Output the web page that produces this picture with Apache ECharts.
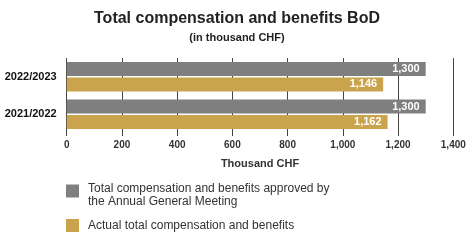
<!DOCTYPE html>
<html><head><meta charset="utf-8">
<script src="https://cdn.jsdelivr.net/npm/echarts@6/dist/echarts.min.js"></script>
<style>html,body{margin:0;padding:0;background:#fff}#c{width:474px;height:240px}</style>
</head><body><div id="c"></div>
<script>
const categories = ['2022/2023', '2021/2022'];
const approved = [1300, 1300];
const actual = [1146, 1162];
const xTicks = [0, 200, 400, 600, 800, 1000, 1200, 1400];
const seriesNames = ['Total compensation and benefits approved by\nthe Annual General Meeting', 'Actual total compensation and benefits'];
const FONT = 'Liberation Sans';
const chart = echarts.init(document.getElementById('c'), null, {renderer: 'canvas'});
const lbl = {show: true, position: 'insideRight', color: '#fff', fontWeight: 'bold', fontSize: 11, fontFamily: FONT, distance: 6,
  formatter: p => p.value.toLocaleString('en-US')};
const legendText = {fontFamily: FONT, fontSize: 12, color: '#333', lineHeight: 13};
chart.setOption({
  animation: false,
  title: {text: 'Total compensation and benefits BoD', subtext: '(in thousand CHF)', left: 'center', top: 6, itemGap: 5,
    textStyle: {fontFamily: FONT, fontSize: 16, fontWeight: 'bold', color: '#222'},
    subtextStyle: {fontFamily: FONT, fontSize: 11, fontWeight: 'bold', color: '#222'}},
  grid: {left: 66.7, right: 20.7, top: 58, bottom: 107, containLabel: false},
  xAxis: {type: 'value', min: xTicks[0], max: xTicks[xTicks.length - 1], interval: 200,
    name: 'Thousand CHF', nameLocation: 'middle', nameGap: 25,
    nameTextStyle: {fontFamily: FONT, fontSize: 11, fontWeight: 'bold', color: '#333'},
    axisLine: {show: false}, axisTick: {show: true, length: 3, lineStyle: {color: '#444'}},
    axisLabel: {fontFamily: FONT, fontSize: 10, fontWeight: 'bold', color: '#333', margin: 7,
      formatter: v => v.toLocaleString('en-US')},
    splitLine: {show: true, lineStyle: {color: '#444', width: 1}}},
  yAxis: {type: 'category', data: categories, inverse: true,
    axisLine: {show: false}, axisTick: {show: false},
    axisLabel: {fontFamily: FONT, fontSize: 11, fontWeight: 'bold', color: '#111', margin: 10}},
  legend: [
    {orient: 'vertical', left: 61, top: 169, itemWidth: 13, itemHeight: 13, icon: 'rect',
      data: [seriesNames[0]],
      formatter: name => '{s| }\n' + name.split('\n').map(l => '{a|' + l + '}').join('\n'),
      textStyle: Object.assign({}, legendText, {padding: [0, 0, 0, 4],
        rich: {s: {fontSize: 4, lineHeight: 8}, a: {fontFamily: FONT, fontSize: 12, color: '#333', lineHeight: 13}}})},
    {orient: 'vertical', left: 61, top: 214, itemWidth: 13, itemHeight: 13, icon: 'rect',
      data: [seriesNames[1]], textStyle: Object.assign({}, legendText, {padding: [0, 0, 0, 4]})}
  ],
  series: [
    {name: seriesNames[0], type: 'bar', data: approved, barWidth: 14, barGap: '10%', itemStyle: {color: '#7f7f7f'}, label: lbl},
    {name: seriesNames[1], type: 'bar', data: actual, barWidth: 14, barGap: '10%', itemStyle: {color: '#c9a44d'}, label: lbl}
  ]
});
</script></body></html>
